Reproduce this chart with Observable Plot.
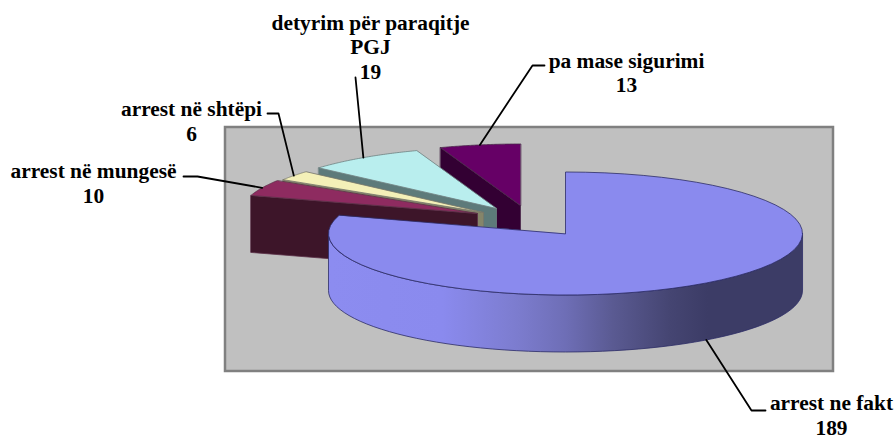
<!DOCTYPE html>
<html>
<head>
<meta charset="utf-8">
<script src="https://cdn.jsdelivr.net/npm/d3@7"></script>
<script src="https://cdn.jsdelivr.net/npm/@observablehq/plot@0.6"></script>
<style>html,body{margin:0;padding:0;background:#fff}svg{display:block}</style>
</head>
<body>
<div id="chart"></div>
<script>
const categories = ["arrest ne fakt", "arrest në mungesë", "arrest në shtëpi", "detyrim për paraqitje\nPGJ", "pa mase sigurimi"];
const counts = [189, 10, 6, 19, 13];
const topColors = ["#8a8aee", "#8e2b60", "#f4f0b8", "#b9eeee", "#660066"];
const wallColors = ["#3c3c66", "#3d1529", "#85856a", "#5d7a7a", "#330033"];
const edgeColors = ["#2c2c66", "#5a3048", "#77776a", "#6d8282", "#4a2a4a"];
const centerX = [565, 477, 483, 496, 520];
const centerY = [233, 213, 212, 208, 205];
const labelX = [831, 93, 191, 370, 626];
const labelY = [392.5, 160.5, 98, 11.8, 49.8];
const labelSize = 21.4;
const labelLead = 1.15;
const elbowX = [751, 197, 278, 355, 532];
const elbowY = [410, 176, 113, 77, 65];
const elbowEndX = [765, 183, 267, 355, 544];
const elbowEndY = [410, 176, 113, 77, 65];

const rx = 237, ry = 61.5, depth = 57;

const arcs = d3.pie().sort(null).startAngle(0).endAngle(2 * Math.PI)(counts);
const rim = (i, a, drop = 0) => [centerX[i] + rx * Math.sin(a), centerY[i] - ry * Math.cos(a) + drop];
const rimPoints = (i, a0, a1, drop = 0) => d3.range(61).map((k) => rim(i, a0 + (a1 - a0) * k / 60, drop));

const poly = (pts, fill, stroke, strokeWidth = 0.8) =>
  Plot.line(pts, {x: (d) => d[0], y: (d) => d[1], curve: "linear-closed", fill, stroke, strokeWidth});

const sliceMarks = [];
for (const i of [4, 3, 2, 1]) {
  const {startAngle: a0, endAngle: a1} = arcs[i];
  const apex = [centerX[i], centerY[i]];
  const r0 = rim(i, a0);
  sliceMarks.push(poly([r0, apex, [apex[0], apex[1] + depth], [r0[0], r0[1] + depth]], wallColors[i], edgeColors[i]));
  sliceMarks.push(poly([apex, ...rimPoints(i, a0, a1)], topColors[i], edgeColors[i]));
}
const {startAngle: m0, endAngle: m1} = arcs[0];
const front = [...rimPoints(0, Math.PI / 2, 1.5 * Math.PI), ...rimPoints(0, 1.5 * Math.PI, Math.PI / 2, depth)];
sliceMarks.push(poly(front, "url(#mainWall)", edgeColors[0]));
sliceMarks.push(poly([[centerX[0], centerY[0]], ...rimPoints(0, m0, m1)], topColors[0], edgeColors[0]));

const leaders = counts.map((_, i) => {
  const mid = (arcs[i].startAngle + arcs[i].endAngle) / 2;
  const drop = i === 0 ? depth : 0;
  return [rim(i, mid, drop), [elbowX[i], elbowY[i]], [elbowEndX[i], elbowEndY[i]]];
});

const gradient = () => {
  const defs = d3.create("svg:defs");
  const g = defs.append("linearGradient").attr("id", "mainWall");
  [[0, "#8c8cf0"], [0.24, "#8a8aee"], [0.4, "#7c7cce"], [0.5, "#6e6eb6"], [0.6, "#5a5a92"], [0.72, "#454572"], [0.8, "#3c3c66"], [1, "#3c3c66"]]
    .forEach(([o, c]) => g.append("stop").attr("offset", o).attr("stop-color", c));
  return defs.node();
};

const labels = categories.map((c, i) => ({text: c + "\n" + counts[i], x: labelX[i], y: labelY[i]}));

const chart = Plot.plot({
  width: 896, height: 441,
  margin: 0,
  x: {domain: [0, 896], range: [0, 896], axis: null},
  y: {domain: [0, 441], range: [0, 441], axis: null},
  marks: [
    gradient,
    Plot.rect([0], {x1: () => 225, x2: () => 833, y1: () => 127, y2: () => 371, fill: "#c0c0c0", stroke: "#808080", strokeWidth: 2.5}),
    ...sliceMarks,
    ...leaders.map((pts) => Plot.line(pts, {x: (d) => d[0], y: (d) => d[1], stroke: "#000", strokeWidth: 1.8})),
    Plot.text(labels, {x: "x", y: "y", text: "text", lineAnchor: "top", textAnchor: "middle", lineHeight: labelLead,
      fontFamily: "Liberation Serif", fontWeight: "bold", fontSize: labelSize, fill: "#000"})
  ]
});
document.getElementById("chart").appendChild(chart);
</script>
</body>
</html>
